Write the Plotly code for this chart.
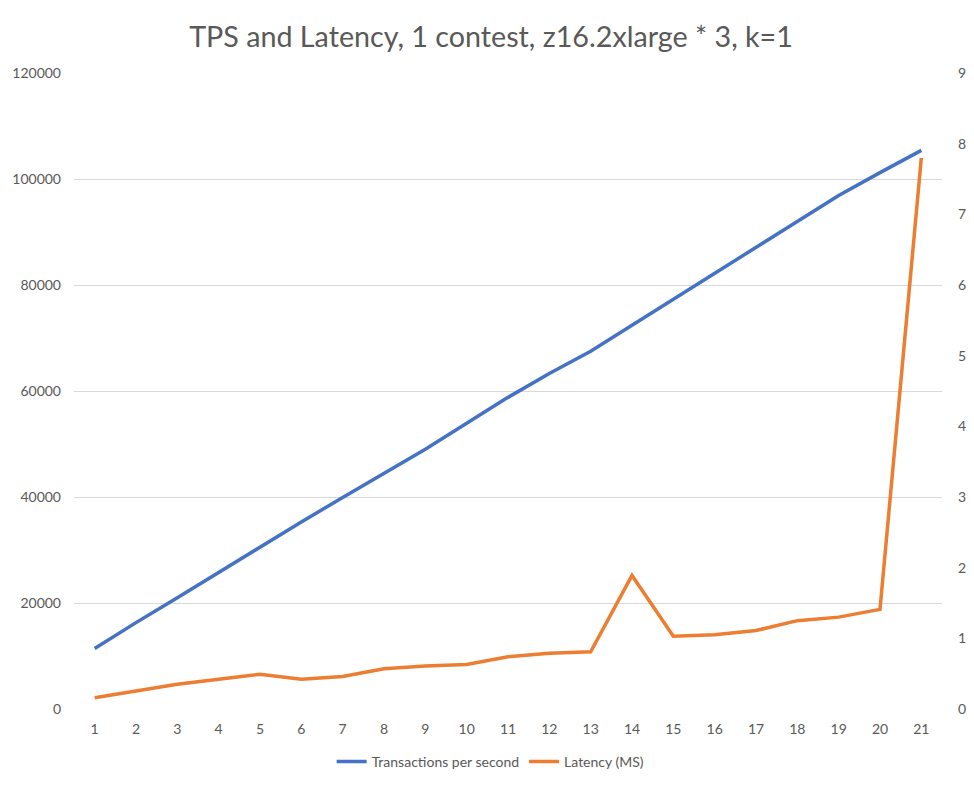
import plotly.graph_objects as go

runs = list(range(1, 22))
tps = [11400, 16300, 21000, 25800, 30600, 35300, 39900, 44500, 49000, 53900, 58800,
       63300, 67500, 72400, 77300, 82200, 87000, 91900, 96900, 101200, 105400]
latency_ms = [0.16, 0.26, 0.35, 0.42, 0.49, 0.42, 0.46, 0.57, 0.61, 0.63, 0.74,
              0.79, 0.81, 1.89, 1.03, 1.05, 1.11, 1.25, 1.30, 1.41, 7.80]
left_ticks = [0, 20000, 40000, 60000, 80000, 100000, 120000]
right_ticks = list(range(0, 10))

FONT = "Lato"
GREY = "#595959"

fig = go.Figure()
fig.add_trace(go.Scatter(x=runs, y=tps, mode="lines", name="Transactions per second",
                         line=dict(color="#4472C4", width=3.5)))
fig.add_trace(go.Scatter(x=runs, y=latency_ms, mode="lines", name="Latency (MS)",
                         yaxis="y2", line=dict(color="#ED7D31", width=3.5)))

# the page body adds an 8px margin, so the figure is a bit smaller than the window
fig.update_layout(
    width=966, height=779,
    paper_bgcolor="white", plot_bgcolor="white",
    margin=dict(l=66, r=32, t=65, b=78, autoexpand=False),
    font=dict(family=FONT, size=14, color=GREY),
    title=dict(text="TPS and Latency, 1 contest, z16.2xlarge * 3, k=1",
               x=0.5, xanchor="center", y=0.963, yanchor="middle",
               font=dict(family=FONT, size=28.7, color=GREY)),
    xaxis=dict(range=[0.5, 21.5], tickmode="array", tickvals=runs,
               ticktext=[str(r) for r in runs], showgrid=False, zeroline=False,
               showline=False, ticks="", ticklabelstandoff=10, automargin=False,
               tickfont=dict(size=14, color=GREY)),
    yaxis=dict(range=[0, 120000], tickmode="array", tickvals=left_ticks,
               ticktext=[str(v) for v in left_ticks], showgrid=True,
               gridcolor="#D9D9D9", gridwidth=1, zeroline=False, showline=False,
               ticks="", ticklabelstandoff=12, automargin=False,
               tickfont=dict(size=14, color=GREY)),
    yaxis2=dict(range=[0, 9], overlaying="y", side="right", tickmode="array",
                tickvals=right_ticks, ticktext=[str(v) for v in right_ticks],
                showgrid=False, zeroline=False, showline=False, ticks="",
                ticklabelstandoff=15, automargin=False,
                tickfont=dict(size=14, color=GREY)),
    legend=dict(orientation="h", x=0.48, xanchor="center", y=-0.083, yanchor="middle",
                font=dict(size=14, color=GREY), itemwidth=30),
    showlegend=True,
)

fig.write_html("out.html")
